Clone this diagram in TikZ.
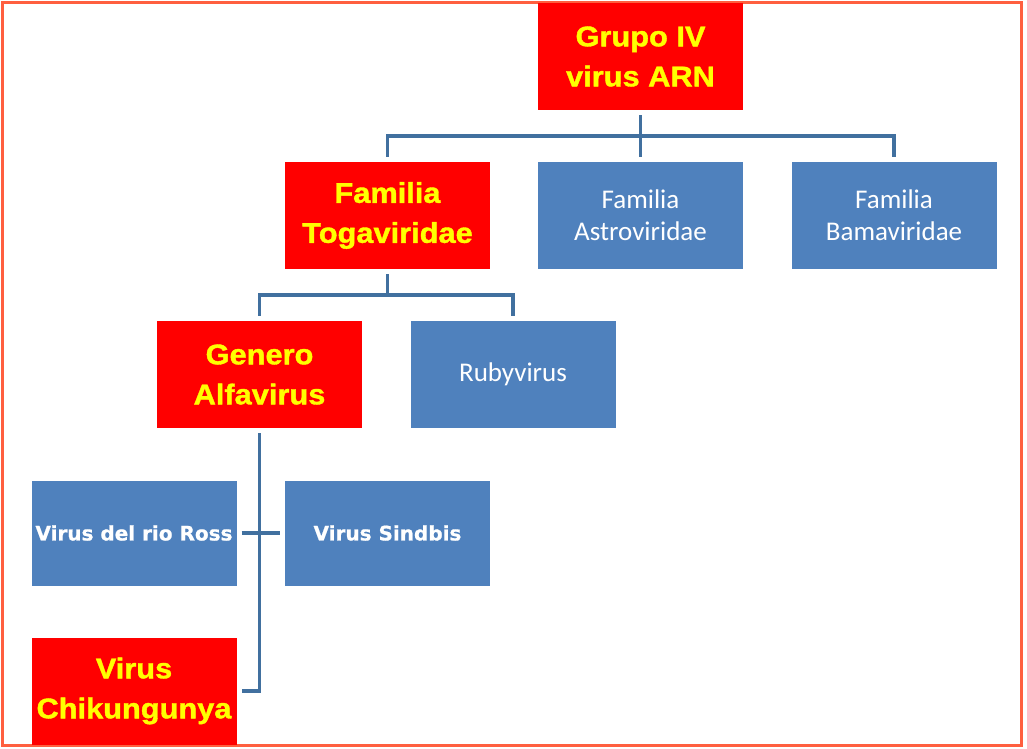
\documentclass[tikz,border=0pt]{standalone}
\usepackage{fontspec}
\usetikzlibrary{calc}
\newfontfamily\yfont[FakeStretch=1.08,FakeBold=1.3]{Liberation Sans}
\newfontfamily\cfont{Carlito}
\newfontfamily\dfont[FakeBold=0.8]{DejaVu Sans}
\definecolor{boxred}{HTML}{FF0000}
\definecolor{txtyellow}{HTML}{FFFF00}
\definecolor{boxblue}{HTML}{4F81BD}
\definecolor{linkblue}{HTML}{41709F}
\definecolor{frame}{HTML}{FF5F3F}
\tikzset{
  redbox/.style={fill=boxred, draw=none, minimum width=205pt, minimum height=107pt, inner sep=0pt, align=center,
    font=\yfont\bfseries\fontsize{28.5}{40}\selectfont, text=txtyellow},
  bluebox/.style={fill=boxblue, draw=none, minimum width=205pt, minimum height=107pt, inner sep=0pt, align=center,
    font=\cfont\fontsize{27}{32}\selectfont, text=white},
  smallbox/.style={fill=boxblue, draw=none, minimum width=205pt, minimum height=105pt, inner sep=0pt, align=center,
    font=\dfont\bfseries\fontsize{20}{24}\selectfont, text=white},
  conn/.style={draw=linkblue, line width=3.5pt},
}
\begin{document}
\begin{tikzpicture}[x=1pt,y=-1pt]
\useasboundingbox (0,0) rectangle (1027,748);
\draw[frame, line width=2.5pt] (2.5,2.5) rectangle (1021.5,745.5);
\node[redbox] (g) at (640.5,56.5) {Grupo IV\\virus ARN};
\node[redbox] (t) at (387.5,215.5) {Familia\\Togaviridae};
\node[bluebox] (a) at (640.5,215.5) {Familia\\Astroviridae};
\node[bluebox] (b) at (894,215.5) {Familia\\Bamaviridae};
\node[redbox] (alf) at (259.5,374.5) {Genero\\Alfavirus};
\node[bluebox] (rub) at (513,374.5) {Rubyvirus};
\node[smallbox] (ross) at (134,533) {Virus del rio Ross};
\node[smallbox] (sind) at (387.5,533) {Virus Sindbis};
\node[redbox] (chik) at (134,691) {Virus\\Chikungunya};
% level 1
\draw[conn] ([yshift=-5pt]g.south) -- ([yshift=5pt]a.north);
\coordinate (m1) at ($(g.south)!0.5!(a.north)$);
\draw[conn] ([yshift=5pt]t.north) |- (m1) -| ([yshift=5pt]b.north);
% level 2
\coordinate (m2) at ($(t.south)!0.5!(t.south|-alf.north)$);
\draw[conn] ([yshift=-5pt]t.south) -- (m2);
\draw[conn] ([yshift=5pt]alf.north) |- (m2) -| ([yshift=5pt]rub.north);
% level 3
\draw[conn] ([yshift=-5pt]alf.south) |- ([xshift=5pt]chik.east);
\draw[conn] ([xshift=5pt]ross.east) -- ([xshift=-5pt]sind.west);
\end{tikzpicture}
\end{document}
